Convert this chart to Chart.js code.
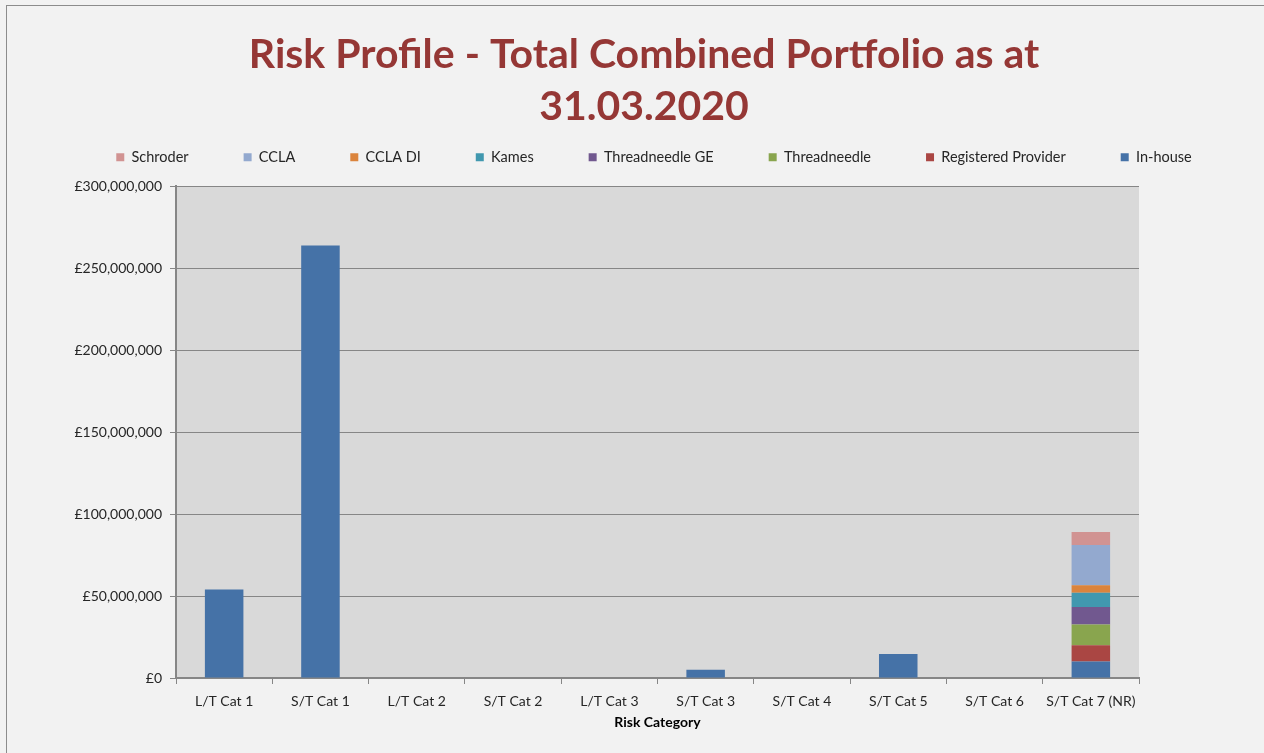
<!DOCTYPE html>
<html>
<head>
<meta charset="utf-8">
<script src="https://cdn.jsdelivr.net/npm/chart.js@4/dist/chart.umd.min.js"></script>
<style>
  html, body { margin: 0; padding: 0; background: #f2f2f2; }
  #wrap { position: absolute; left: 0; top: 0; width: 1264px; height: 753px; }
  #frame { position: absolute; left: 6px; top: 5px; width: 1258px; height: 748px; border-left: 1px solid #8c8c8c; border-top: 1px solid #8c8c8c; }
  canvas { position: absolute; left: 0; top: 0; }
</style>
</head>
<body>
<div id="wrap">
  <div id="frame"></div>
  <canvas id="c" width="1264" height="753"></canvas>
</div>
<script>
const categories = ['L/T Cat 1','S/T Cat 1','L/T Cat 2','S/T Cat 2','L/T Cat 3','S/T Cat 3','S/T Cat 4','S/T Cat 5','S/T Cat 6','S/T Cat 7 (NR)'];
const inHouse            = [54000000, 264000000, 0, 0, 0, 5000000, 0, 14600000, 0, 10000000];
const registeredProvider = [0, 0, 0, 0, 0, 0, 0, 0, 0, 10000000];
const threadneedle       = [0, 0, 0, 0, 0, 0, 0, 0, 0, 12600000];
const threadneedleGE     = [0, 0, 0, 0, 0, 0, 0, 0, 0, 10800000];
const kames              = [0, 0, 0, 0, 0, 0, 0, 0, 0, 8700000];
const cclaDI             = [0, 0, 0, 0, 0, 0, 0, 0, 0, 4500000];
const ccla               = [0, 0, 0, 0, 0, 0, 0, 0, 0, 24600000];
const schroder           = [0, 0, 0, 0, 0, 0, 0, 0, 0, 7900000];
const yTicks = [0, 50000000, 100000000, 150000000, 200000000, 250000000, 300000000];

const series = [
  ['In-house', inHouse, '#4572A7'],
  ['Registered Provider', registeredProvider, '#AA4643'],
  ['Threadneedle', threadneedle, '#89A54E'],
  ['Threadneedle GE', threadneedleGE, '#71588F'],
  ['Kames', kames, '#4198AF'],
  ['CCLA DI', cclaDI, '#DB843D'],
  ['CCLA', ccla, '#93A9CF'],
  ['Schroder', schroder, '#D19392']
];

const plotBg = {
  id: 'plotBg',
  afterLayout(chart) {
    if (chart.legend) { chart.legend.left += 10; chart.legend.right += 10; }
  },
  beforeDraw(chart) {
    const a = chart.chartArea, ctx = chart.ctx;
    ctx.save();
    ctx.fillStyle = '#d9d9d9';
    ctx.fillRect(a.left, a.top, a.right - a.left, a.bottom - a.top);
    ctx.restore();
  }
};

const FONT = 'Lato, "Open Sans", sans-serif';

new Chart(document.getElementById('c'), {
  type: 'bar',
  data: {
    labels: categories,
    datasets: series.map(s => ({
      label: s[0], data: s[1], backgroundColor: s[2], borderWidth: 0,
      barPercentage: 0.4, categoryPercentage: 1.0,
      xAxisID: 'x', yAxisID: 'y'
    }))
  },
  options: {
    responsive: false,
    animation: false,
    layout: { padding: { left: 24, right: 0, top: 0, bottom: 20 } },
    plugins: {
      title: {
        display: true,
        text: ['Risk Profile - Total Combined Portfolio as at', '31.03.2020'],
        color: '#953735',
        font: { family: FONT, size: 41, weight: 'bold', lineHeight: 1.268 },
        padding: { top: 29, bottom: -38 }
      },
      legend: {
        display: true,
        reverse: true,
        labels: {
          boxWidth: 8, boxHeight: 8, padding: 55,
          color: '#262626',
          font: { family: FONT, size: 14.5 }
        }
      },
      tooltip: { enabled: false }
    },
    scales: {
      x: {
        stacked: true,
        afterFit(s) { s.height = 55; },
        grid: { display: true, drawOnChartArea: false, drawTicks: true, tickLength: 6, offset: true, color: '#868686' },
        border: { color: '#868686', width: 2 },
        ticks: { color: '#262626', font: { family: FONT, size: 14 }, padding: 9 },
        title: { display: true, text: 'Risk Category', color: '#000', font: { family: FONT, size: 14, weight: 'bold' }, padding: { top: 2, bottom: 2 } }
      },
      y: {
        stacked: true,
        min: 0, max: 300000000,
        afterFit(s) { s.width = 152; },
        afterBuildTicks(s) { s.ticks = yTicks.map(v => ({ value: v })); },
        grid: { color: '#868686', lineWidth: 1, tickLength: 6 },
        border: { color: '#868686', width: 2 },
        ticks: {
          color: '#262626', font: { family: FONT, size: 14 }, padding: 8,
          callback: v => '£' + Number(v).toLocaleString('en-GB')
        }
      },
      xTop: {
        type: 'category', position: 'top', display: true,
        afterFit(s) { s.height = 12; },
        grid: { display: false }, border: { display: false }, ticks: { display: false }
      },
      yRight: {
        type: 'linear', position: 'right', display: true, min: 0, max: 1,
        afterFit(s) { s.width = 125; },
        grid: { display: false }, border: { display: false }, ticks: { display: false }
      }
    }
  },
  plugins: [plotBg]
});
</script>
</body>
</html>
